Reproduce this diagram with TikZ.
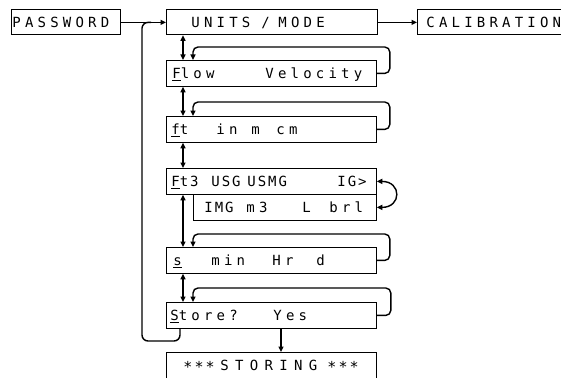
\documentclass[tikz,border=0pt]{standalone}
\usepackage{fontspec}
\usetikzlibrary{arrows.meta}
\newfontfamily\lcdfont{DejaVu Sans Mono}[LetterSpace=30]
\newfontfamily\lcdtight{DejaVu Sans Mono}[LetterSpace=14]
\newfontfamily\lcdwide{DejaVu Sans Mono}[LetterSpace=45]
\newcommand\lcdat[2]{\rlap{\hspace*{#1}#2}}
\newcommand\lcdul[1]{\underline{#1}}
\newcommand\lcdstar{\raisebox{-2.5pt}{\lcdtight\fontsize{15pt}{15pt}\selectfont ***}}
\begin{document}
\begin{tikzpicture}[x=1pt,y=-1pt,
  >={Triangle[length=5.5pt,width=5pt]},
  lcdbox/.style={draw, line width=0.8pt, anchor=north west, inner sep=0pt,
    minimum height=26pt, text height=10pt, text depth=0pt,
    font=\lcdfont\fontsize{14pt}{15pt}\selectfont},
  conn/.style={line width=1.4pt},
  loopline/.style={conn, ->, rounded corners=5pt}]
\useasboundingbox (0,0) rectangle (561,377);
\clip (0,0) rectangle (561,377);
\coordinate (colA) at (183,0);
\coordinate (colB) at (193,0);
\coordinate (colC) at (281,0);
\coordinate (colD) at (180,0);
\coordinate (rl) at (142,341);

\node[lcdbox, minimum height=25pt] (pw) at (11,9.5)
  {\makebox[109pt][l]{\lcdat{1pt}{PASSWORD}}};
\node[lcdbox, minimum height=25pt] (units) at (166,9.5)
  {\makebox[211pt][l]{\lcdat{25pt}{UNITS}\lcdat{95pt}{/}\lcdat{112pt}{MODE}}};
\node[lcdbox, minimum height=25pt] (calib) at (417,9.5)
  {\makebox[160pt][l]{\lcdat{9pt}{CALIBRATION}}};
\node[lcdbox] (flow) at (166,60)
  {\makebox[210pt][l]{\lcdat{6pt}{\lcdul{F}low}\lcdat{99pt}{Velocity}}};
\node[lcdbox] (ft) at (166,116)
  {\makebox[210pt][l]{\lcdat{5pt}{\lcdul{f}t}\lcdat{50pt}{in}\lcdat{85pt}{m}\lcdat{110pt}{cm}}};
\node[lcdbox] (vol) at (166,168)
  {\makebox[210pt][l]{\lcdtight\lcdat{5pt}{\lcdul{F}t3}\lcdat{45pt}{USG}\lcdat{81pt}{USMG}\lcdat{171pt}{IG>}}};
\node[lcdbox] (vol2) at (193,194)
  {\makebox[183pt][l]{\lcdat{11pt}{\lcdtight IMG}\lcdat{53pt}{m3}\lcdat{109pt}{L}\lcdat{136pt}{brl}}};
\node[lcdbox] (time) at (166,247)
  {\makebox[210pt][l]{\lcdat{7pt}{\lcdul{s}}\lcdat{45pt}{min}\lcdat{106pt}{Hr}\lcdat{150pt}{d}}};
\node[lcdbox] (store) at (166,302)
  {\makebox[210pt][l]{\lcdat{4pt}{\lcdul{S}tore?}\lcdat{107pt}{Yes}}};
\node[lcdbox] (storing) at (166,352)
  {\makebox[210pt][l]{\lcdat{17pt}{\lcdstar}\lcdat{54pt}{\lcdwide STORING}\lcdat{161pt}{\lcdstar}}};

% top row
\draw[conn,->] (pw.east) -- (units.west);
\draw[conn,->] (units.east) -- (calib.west);
% vertical double arrows
\draw[conn,<->] (units.south -| colA) -- (flow.north -| colA);
\draw[conn,<->] (flow.south -| colA) -- (ft.north -| colA);
\draw[conn,<->] (ft.south -| colA) -- (vol.north -| colA);
\draw[conn,<->] (vol.south -| colA) -- (time.north -| colA);
\draw[conn,<->] (time.south -| colA) -- (store.north -| colA);
% loops
\draw[loopline] (flow.east) -- ([xshift=13pt]flow.east) |- ([yshift=13pt]flow.north -| colB) -- (flow.north -| colB);
\draw[loopline] (ft.east) -- ([xshift=13pt]ft.east) |- ([yshift=14pt]ft.north -| colB) -- (ft.north -| colB);
\draw[loopline] (time.east) -- ([xshift=13pt]time.east) |- ([yshift=13pt]time.north -| colB) -- (time.north -| colB);
\draw[loopline] (store.east) -- ([xshift=14pt]store.east) |- ([yshift=14pt]store.north -| colB) -- (store.north -| colB);
% curved double arrow between volume rows
\draw[conn,<->] (vol.east) .. controls +(25,0) and +(25,0) .. (vol2.east);
% store to storing
\draw[conn,->] (store.south -| colC) -- (storing.north -| colC);
% return loop
\draw[conn, rounded corners=6pt] (store.south -| colD) |- (rl) -- (rl |- pw.east) -- ([xshift=9pt]rl |- pw.east);
\end{tikzpicture}
\end{document}
